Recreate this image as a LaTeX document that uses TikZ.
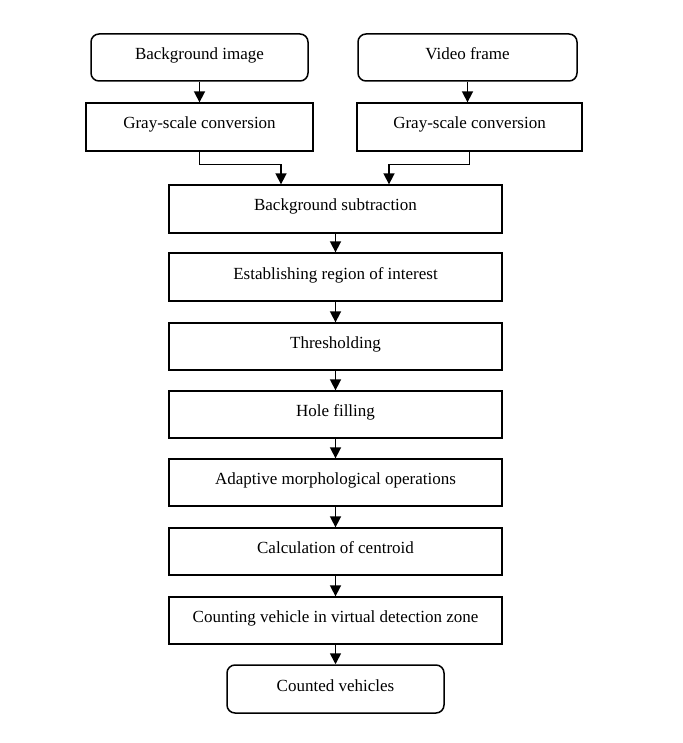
\documentclass[tikz,border=0pt]{standalone}
\usepackage{fontspec}
\setmainfont{Liberation Serif}
\usetikzlibrary{arrows.meta}
\begin{document}
\begin{tikzpicture}[x=1pt,y=-1pt,
  box/.style={draw, line width=1.3pt, minimum width=333pt, minimum height=48pt, inner sep=0pt,
    font=\fontsize{17}{20}\selectfont, text depth=5pt, text height=9pt},
  rbox/.style={box, line width=1.5pt, rounded corners=8pt},
  arr/.style={line width=1.6pt, -{Triangle[length=11pt,width=11pt]}}]
\useasboundingbox (0,0) rectangle (682,743);
\node[rbox, minimum width=217pt, minimum height=47pt] (bg) at (199.5,57.5) {Background image};
\node[rbox, minimum width=219pt, minimum height=47pt] (vid) at (467.5,57.5) {Video frame};
\node[box, minimum width=227pt] (g1) at (199.5,127) {Gray-scale conversion};
\node[box, minimum width=225pt] (g2) at (469.5,127) {Gray-scale conversion};
\node[box] (sub) at (335.5,209) {Background subtraction};
\node[box] (roi) at (335.5,277) {Establishing region of interest};
\node[box, minimum height=47pt] (thr) at (335.5,346.5) {Thresholding};
\node[box, minimum height=47pt] (hole) at (335.5,414.5) {Hole filling};
\node[box, minimum height=47pt] (adapt) at (335.5,482.5) {Adaptive morphological operations};
\node[box, minimum height=47pt] (cent) at (335.5,551.5) {Calculation of centroid};
\node[box, minimum height=47pt] (count) at (335.5,620.5) {Counting vehicle in virtual detection zone};
\node[rbox, minimum width=217pt] (done) at (335.5,689) {Counted vehicles};
\draw[arr] (bg) -- (g1);
\draw[arr] (vid.south) -- (vid.south |- g2.north);
\draw[arr] (g1.south) -- ++(0,13) -| ([xshift=-54.5pt]sub.north);
\draw[arr] (g2.south) -- ++(0,13) -| ([xshift=53.5pt]sub.north);
\draw[arr] (sub) -- (roi);
\draw[arr] (roi) -- (thr);
\draw[arr] (thr) -- (hole);
\draw[arr] (hole) -- (adapt);
\draw[arr] (adapt) -- (cent);
\draw[arr] (cent) -- (count);
\draw[arr] (count) -- (done);
\end{tikzpicture}
\end{document}
